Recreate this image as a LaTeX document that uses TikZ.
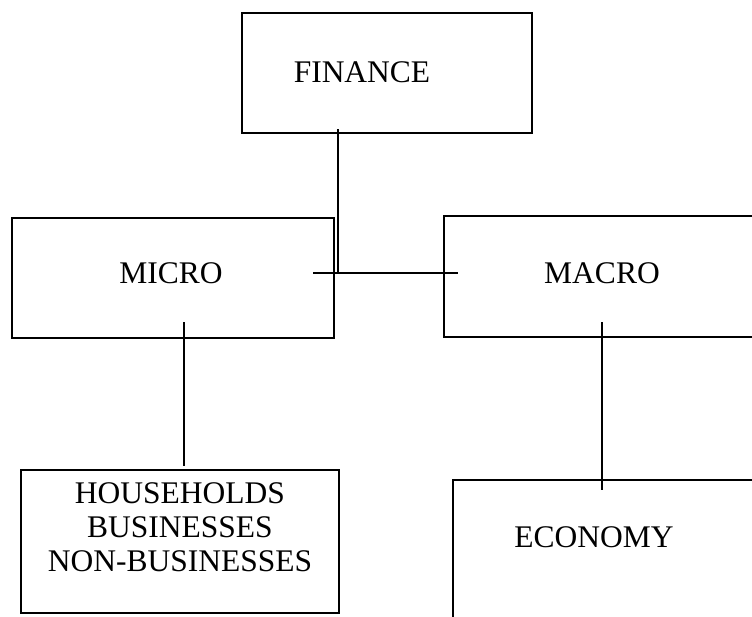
\documentclass[tikz,border=0pt]{standalone}
\usepackage{fontspec}
\setmainfont{Liberation Serif}
\begin{document}
\begin{tikzpicture}[x=1pt,y=-1pt,
  box/.style={draw=black,line width=2pt,fill=none},
  lbl/.style={inner sep=0pt,font=\fontsize{31.5}{34}\selectfont,align=center},
  conn/.style={draw=black,line width=1.4pt}]
\useasboundingbox (0,0) rectangle (752,616);
\clip (0,0) rectangle (752,616);
\fill[white] (0,0) rectangle (752,616);
% boxes
\draw[box] (242,13) rectangle (532,133);
\node[inner sep=0pt] (fin) at (387,73) {};
\draw[box] (12,218) rectangle (334,338);
\node[inner sep=0pt] (mic) at (173,278) {};
\draw[box] (444,216) rectangle (780,337);
\node[inner sep=0pt] (mac) at (602,276) {};
\draw[box] (21,470) rectangle (339,613);
\node[inner sep=0pt] (hh) at (180,541) {};
\draw[box] (453,480) rectangle (790,640);
\node[inner sep=0pt] (eco) at (594,560) {};
% labels
\node[lbl] (fint) at (362,72) {FINANCE};
\node[lbl] (mict) at (171,273) {MICRO};
\node[lbl] (mact) at (602,273) {MACRO};
\node[lbl] (hht) at (180,527) {HOUSEHOLDS\\BUSINESSES\\NON-BUSINESSES};
\node[lbl] (ecot) at (594,537) {ECONOMY};
% connector points
\coordinate (f1) at (338,129);
\coordinate (j) at (338,273);
\coordinate (hl) at (313,273);
\coordinate (hr) at (458,273);
\coordinate (m1) at (184,322);
\coordinate (m2) at (184,466);
\coordinate (a1) at (602,322);
\coordinate (a2) at (602,490);
\draw[conn] (f1) -- (j);
\draw[conn] (hl) -- (hr);
\draw[conn] (m1) -- (m2);
\draw[conn] (a1) -- (a2);
\end{tikzpicture}
\end{document}
